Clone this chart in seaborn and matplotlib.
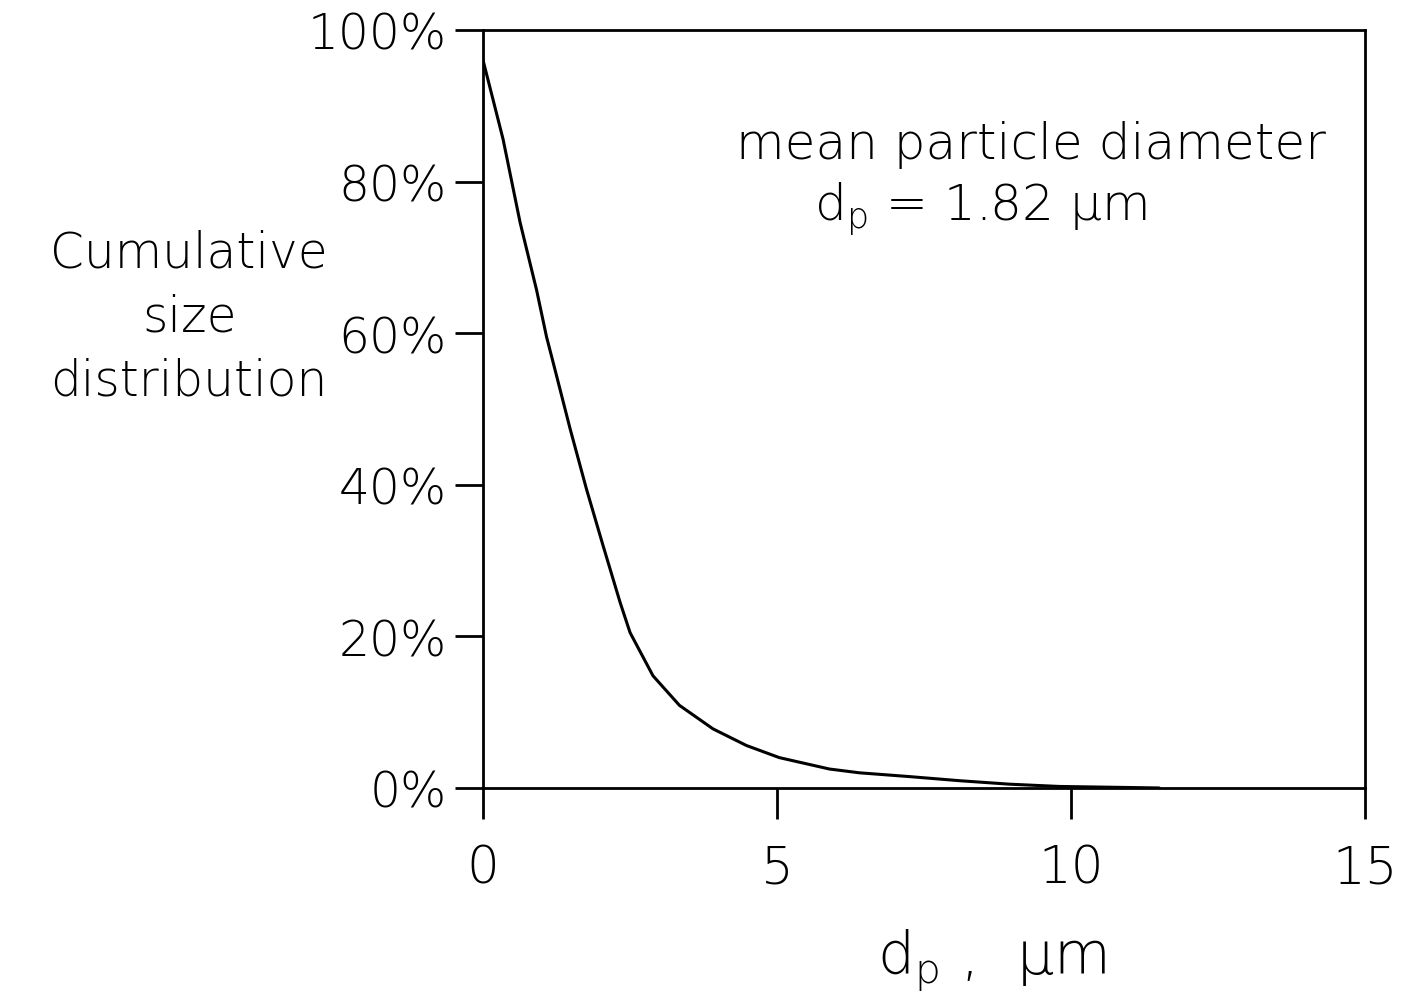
import numpy as np
import pandas as pd
import seaborn as sns
import matplotlib.pyplot as plt

sns.set_style('ticks')
plt.rcParams['font.family'] = ['DejaVu Sans']

# Data
diameter_um = [0.0, 0.34, 0.63, 0.91, 1.08, 1.19, 1.48, 1.76, 2.04, 2.33, 2.50,
               2.89, 3.34, 3.91, 4.48, 5.04, 5.89, 6.40, 7.25, 8.10, 8.95, 9.8, 11.5]
cumulative_pct = [96.0, 85.6, 74.6, 65.7, 59.5, 56.2, 47.4, 39.4, 32.0, 24.5, 20.5,
                  14.8, 10.9, 7.8, 5.6, 4.0, 2.5, 2.0, 1.5, 0.96, 0.5, 0.2, 0.0]
x_ticks = [0, 5, 10, 15]
y_ticks = [0, 20, 40, 60, 80, 100]
y_tick_labels = ['0%', '20%', '40%', '60%', '80%', '100%']

df = pd.DataFrame({'dp': diameter_um, 'cum': cumulative_pct})

fig = plt.figure(figsize=(14.01, 10.03), dpi=100)
ax = fig.add_axes([0.3448, 0.2134, 0.6295, 0.7557])
sns.lineplot(data=df, x='dp', y='cum', ax=ax, color='black', linewidth=2.2)

ax.set_xlim(0, 15)
ax.set_ylim(0, 100)
ax.set_xticks(x_ticks)
ax.set_xticklabels([str(t) for t in x_ticks])
ax.set_yticks(y_ticks)
ax.set_yticklabels(y_tick_labels)
for s in ax.spines.values():
    s.set_visible(True)
    s.set_linewidth(2.0)
    s.set_color('black')
ax.tick_params(axis='y', direction='out', length=20, width=2.0, pad=6,
               labelsize=35, colors='black')
ax.tick_params(axis='x', direction='out', length=22, width=2.0, pad=18,
               labelsize=37, colors='black')
for lab in ax.get_xticklabels() + ax.get_yticklabels():
    lab.set_fontweight('light')
ax.set_xlabel('')
ax.set_ylabel('')

# y axis title (three lines, to the left of the tick labels)
fig.text(0.135, 0.683, 'Cumulative\nsize\ndistribution', ha='center', va='center',
         fontsize=35, fontweight='light', linespacing=1.42, color='black')

# x axis title
fig.text(0.708, 0.043, r'd$_\mathregular{p}$ ,  μm', ha='center', va='center',
         fontsize=42, fontweight='light', color='black')

# annotation
ax.text(0.621, 0.850, 'mean particle diameter', transform=ax.transAxes,
        ha='center', va='center', fontsize=36, fontweight='light', color='black')
ax.text(0.5635, 0.764, r'd$_\mathregular{p}$ = 1.82 μm', transform=ax.transAxes,
        ha='center', va='center', fontsize=36, fontweight='light', color='black')

fig.savefig('out.png', dpi=100, facecolor='white')
